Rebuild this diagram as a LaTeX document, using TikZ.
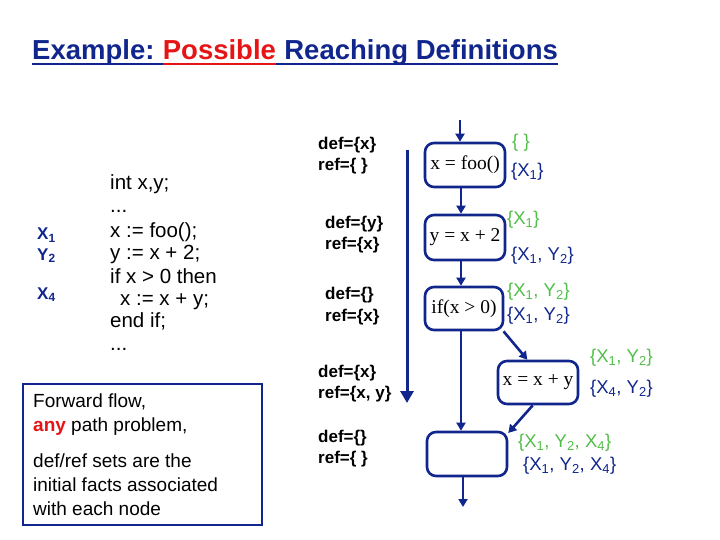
\documentclass[tikz,border=0pt]{standalone}
\usepackage{fontspec}
\setmainfont{Liberation Sans}
\newfontfamily\serifbox{Liberation Serif}
\usetikzlibrary{arrows.meta,calc}
\definecolor{navy}{RGB}{16,38,140}
\definecolor{setgreen}{RGB}{80,190,70}
\definecolor{titlered}{RGB}{230,20,20}
\begin{document}
\begin{tikzpicture}[x=1pt,y=-1pt,
  flowbox/.style={draw=navy, line width=2.6pt, rounded corners=9pt, minimum width=80pt, minimum height=44pt, inner sep=0pt, font=\serifbox\fontsize{19.5}{19.5}\selectfont},
  flow/.style={draw=navy, line width=2.6pt, -{Triangle[width=9pt,length=8pt]}},
  titletxt/.style={inner sep=0pt, anchor=base west, font=\bfseries\fontsize{27.5}{27.5}\selectfont},
  uline/.style={line width=2pt},
  codetxt/.style={inner sep=0pt, anchor=base west, font=\fontsize{20.5}{20.5}\selectfont},
  deflab/.style={inner sep=0pt, anchor=base west, text=navy, font=\bfseries\fontsize{17}{17}\selectfont},
  infotxt/.style={inner sep=0pt, anchor=base west, font=\fontsize{19}{19}\selectfont},
  dr/.style={inner sep=0pt, anchor=west, font=\bfseries\fontsize{17}{17}\selectfont},
  inset/.style={inner sep=0pt, anchor=west, text=setgreen, font=\fontsize{18.5}{18.5}\selectfont},
  outset/.style={inner sep=0pt, anchor=west, text=navy, font=\fontsize{18.5}{18.5}\selectfont}]
\useasboundingbox (0,0) rectangle (720,540);
% title
\node[titletxt, text=navy] (t1) at (32,60) {Example:\hspace*{8pt}};
\node[titletxt, text=titlered] (t2) at (t1.base east) {Possible};
\node[titletxt, text=navy] (t3) at (t2.base east) {\hspace*{8pt}Reaching Definitions};
\draw[uline, navy] ([yshift=-4pt]t1.base west) -- ([yshift=-4pt]t1.base east);
\draw[uline, titlered] ([yshift=-4pt]t2.base west) -- ([yshift=-4pt]t2.base east);
\draw[uline, navy] ([yshift=-4pt]t3.base west) -- ([yshift=-4pt]t3.base east);
% code
\node[codetxt] (c1) at (110,190) {int x,y;};
\node[codetxt] (c2) at (110,213) {...};
\node[codetxt] (c3) at (110,237) {x := foo();};
\node[codetxt] (c4) at (110,259) {y := x + 2;};
\node[codetxt] (c5) at (110,283) {if x > 0 then};
\node[codetxt] (c6) at (120,305) {x := x + y;};
\node[codetxt] (c7) at (110,327) {end if;};
\node[codetxt] (c8) at (110,350) {...};
\node[deflab] (l1) at (37,240) {X\textsubscript{1}};
\node[deflab] (l2) at (37,260) {Y\textsubscript{2}};
\node[deflab] (l4) at (37,299) {X\textsubscript{4}};
% info box
\node[draw=navy, line width=2.2pt, minimum width=239pt, minimum height=141pt, inner sep=0pt] (info) at (142.5,454.5) {};
\node[infotxt] (i1) at (33,407) {Forward flow,};
\node[infotxt] (i2) at (33,431) {\textcolor{titlered}{\bfseries any} path problem,};
\node[infotxt] (i3) at (33,467) {def/ref sets are the};
\node[infotxt] (i4) at (33,491) {initial facts associated};
\node[infotxt] (i5) at (33,515) {with each node};
% def / ref
\node[dr] (d1) at (318,145) {def=\{x\}};
\node[dr] (r1) at (318,166) {ref=\{ \}};
\node[dr] (d2) at (325,224) {def=\{y\}};
\node[dr] (r2) at (325,245) {ref=\{x\}};
\node[dr] (d3) at (325,295) {def=\{\}};
\node[dr] (r3) at (325,317) {ref=\{x\}};
\node[dr] (d4) at (318,373) {def=\{x\}};
\node[dr] (r4) at (318,394) {ref=\{x, y\}};
\node[dr] (d5) at (318,438) {def=\{\}};
\node[dr] (r5) at (318,459) {ref=\{ \}};
% long arrow
\coordinate (lt) at (407,150);
\coordinate (lb) at (407,403);
\draw[draw=navy, line width=3pt, -{Triangle[width=13pt,length=12pt]}] (lt) -- (lb);
% flow graph
\node[flowbox] (b1) at (465,165) {x = foo()};
\node[flowbox, minimum height=45pt] (b2) at (465,237.5) {y = x + 2};
\node[flowbox, minimum width=78pt, minimum height=43pt] (b3) at (464,308.5) {if(x > 0)};
\node[flowbox, minimum height=43pt] (b4) at (538,382.5) {x = x + y};
\node[flowbox] (b5) at (467,454) {};
\coordinate (in) at (460,120);
\coordinate (out) at (463,507);
\draw[flow] (in) -- (in |- b1.north);
\draw[flow] ([xshift=-4pt]b1.south) -- ([xshift=-4pt]b2.north);
\draw[flow] ([xshift=-4pt]b2.south) -- ([xshift=-3pt]b3.north);
\draw[flow] ([xshift=-3pt]b3.south) -- ([xshift=-6pt]b5.north);
\draw[flow] (b3.-30) -- (b4.115);
\draw[flow] (b4.257) -- (b5.27);
\draw[flow] ([xshift=-4pt]b5.south) -- (out);
% sets
\node[inset] (s1i) at (512,143) {\{ \}};
\node[outset] (s1o) at (511,172) {\{X\textsubscript{1}\}};
\node[inset] (s2i) at (507,220) {\{X\textsubscript{1}\}};
\node[outset] (s2o) at (511,256) {\{X\textsubscript{1}, Y\textsubscript{2}\}};
\node[inset] (s3i) at (507,292) {\{X\textsubscript{1}, Y\textsubscript{2}\}};
\node[outset] (s3o) at (507,316) {\{X\textsubscript{1}, Y\textsubscript{2}\}};
\node[inset] (s4i) at (590,358) {\{X\textsubscript{1}, Y\textsubscript{2}\}};
\node[outset] (s4o) at (590,389) {\{X\textsubscript{4}, Y\textsubscript{2}\}};
\node[inset] (s5i) at (518,443) {\{X\textsubscript{1}, Y\textsubscript{2}, X\textsubscript{4}\}};
\node[outset] (s5o) at (523,466) {\{X\textsubscript{1}, Y\textsubscript{2}, X\textsubscript{4}\}};
\end{tikzpicture}
\end{document}
